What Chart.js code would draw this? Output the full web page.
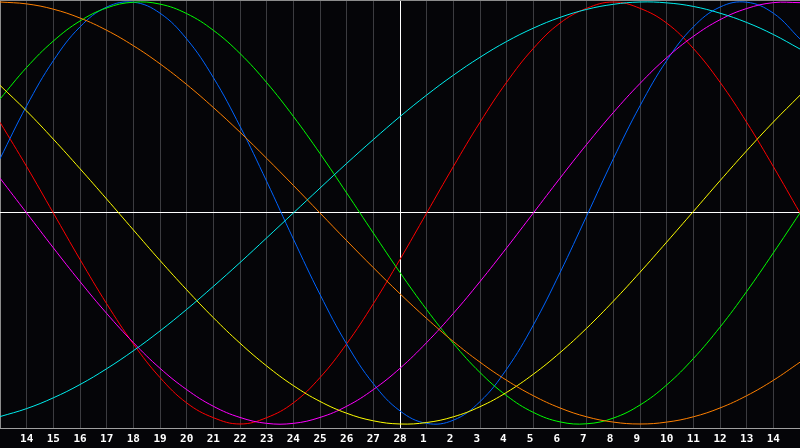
<!DOCTYPE html>
<html>
<head>
<meta charset="utf-8">
<script src="https://cdn.jsdelivr.net/npm/chart.js@4/dist/chart.umd.min.js"></script>
<style>
  html, body { margin: 0; padding: 0; background: #050508; overflow: hidden; }
  #wrap { width: 800px; height: 448px; }
</style>
</head>
<body>
<div id="wrap"><canvas id="c" width="800" height="448"></canvas></div>
<script>
// Day labels (first and last positions are the plot edges, unlabeled)
const dayLabels = ['', '14','15','16','17','18','19','20','21','22','23','24','25','26','27','28',
                   '1','2','3','4','5','6','7','8','9','10','11','12','13','14', ''];

// Series values, one per day position
const red     = [0.43,0.22,0,-0.22,-0.43,-0.62,-0.78,-0.90,-0.97,-1,-0.97,-0.90,-0.78,-0.62,-0.43,-0.22,
                 0,0.22,0.43,0.62,0.78,0.90,0.97,1,0.97,0.90,0.78,0.62,0.43,0.22,0];
const green   = [0.54,0.69,0.815,0.91,0.972,0.999,0.99,0.945,0.866,0.756,0.618,0.458,0.282,0.095,-0.095,-0.282,
                 -0.458,-0.618,-0.756,-0.866,-0.945,-0.99,-0.999,-0.972,-0.91,-0.815,-0.69,-0.541,-0.372,-0.189,0];
const blue    = [0.257,0.508,0.722,0.882,0.976,0.999,0.947,0.825,0.642,0.411,0.150,-0.123,-0.386,-0.621,-0.809,-0.938,
                 -0.997,-0.982,-0.894,-0.740,-0.531,-0.283,-0.014,0.257,0.508,0.722,0.882,0.976,0.999,0.947,0.825];
const cyan    = [-0.965,-0.927,-0.876,-0.813,-0.738,-0.653,-0.559,-0.457,-0.348,-0.235,-0.118,0,0.118,0.235,0.348,0.457,
                 0.559,0.653,0.738,0.813,0.876,0.927,0.965,0.989,1.0,0.996,0.979,0.947,0.903,0.846,0.777];
const orange  = [1,0.991,0.966,0.924,0.866,0.793,0.707,0.609,0.5,0.383,0.259,0.131,0,-0.131,-0.259,-0.383,
                 -0.5,-0.609,-0.707,-0.793,-0.866,-0.924,-0.966,-0.991,-1,-0.991,-0.966,-0.924,-0.866,-0.793,-0.707];
const yellow  = [0.605,0.483,0.350,0.210,0.066,-0.080,-0.225,-0.364,-0.496,-0.617,-0.725,-0.818,-0.893,-0.949,-0.985,-1.0,
                 -0.993,-0.966,-0.918,-0.850,-0.764,-0.662,-0.546,-0.418,-0.281,-0.138,0.007,0.153,0.295,0.431,0.558];
const magenta = [0.165,0,-0.165,-0.325,-0.476,-0.614,-0.736,-0.837,-0.916,-0.969,-0.997,-0.997,-0.969,-0.916,-0.837,-0.736,
                 -0.614,-0.476,-0.325,-0.165,0,0.165,0.325,0.476,0.614,0.736,0.837,0.916,0.969,0.997,0.997];

const Y_MIN = -1.019, Y_MAX = 1.0095;
const TODAY_INDEX = 15;

function ds(data, color) {
  return { data, borderColor: color, borderWidth: 1, pointRadius: 0, pointHoverRadius: 0,
           tension: 0.4, fill: false };
}

new Chart(document.getElementById('c'), {
  type: 'line',
  data: {
    labels: dayLabels,
    datasets: [
      ds(cyan, '#00eeee'),
      ds(orange, '#ff8000'),
      ds(yellow, '#ffff00'),
      ds(magenta, '#ff00ff'),
      ds(green, '#00ff00'),
      ds(blue, '#0064ff'),
      ds(red, '#ff0000')
    ]
  },
  options: {
    responsive: false,
    animation: false,
    events: [],
    layout: { padding: { left: 0, right: 0, top: 0, bottom: -2 } },
    plugins: { legend: { display: false }, tooltip: { enabled: false } },
    scales: {
      x: {
        type: 'category',
        offset: false,
        grid: {
          drawTicks: false,
          lineWidth: 1,
          color: (ctx) => {
            if (ctx.index === TODAY_INDEX) return '#ffffff';
            if (ctx.index === 0 || ctx.index === dayLabels.length - 1) return '#8c8c8c';
            return '#3c3c40';
          }
        },
        border: { display: true, color: '#a0a0a0', width: 1 },
        ticks: {
          color: '#ffffff',
          font: { family: 'DejaVu Sans Mono', size: 11, weight: 'bold', lineHeight: 2 },
          padding: 0,
          autoSkip: false,
          maxRotation: 0,
          minRotation: 0,
          callback: function(v, i) {
            const s = dayLabels[i];
            return s.length === 1 ? s + ' ' : s;
          }
        }
      },
      y: {
        type: 'linear',
        min: Y_MIN,
        max: Y_MAX,
        afterBuildTicks: (scale) => {
          scale.ticks = [{ value: Y_MIN }, { value: 0 }, { value: Y_MAX }];
        },
        grid: {
          drawTicks: false,
          lineWidth: 1,
          color: (ctx) => (ctx.tick && ctx.tick.value === 0) ? '#ffffff' : '#8c8c8c'
        },
        border: { display: false },
        ticks: { display: false, padding: 0 }
      }
    }
  },
  plugins: [{
    id: 'bg',
    beforeDraw(chart) {
      const c = chart.ctx;
      c.save();
      c.fillStyle = '#050508';
      c.fillRect(0, 0, chart.width, chart.height);
      c.restore();
    }
  }]
});
</script>
</body>
</html>
